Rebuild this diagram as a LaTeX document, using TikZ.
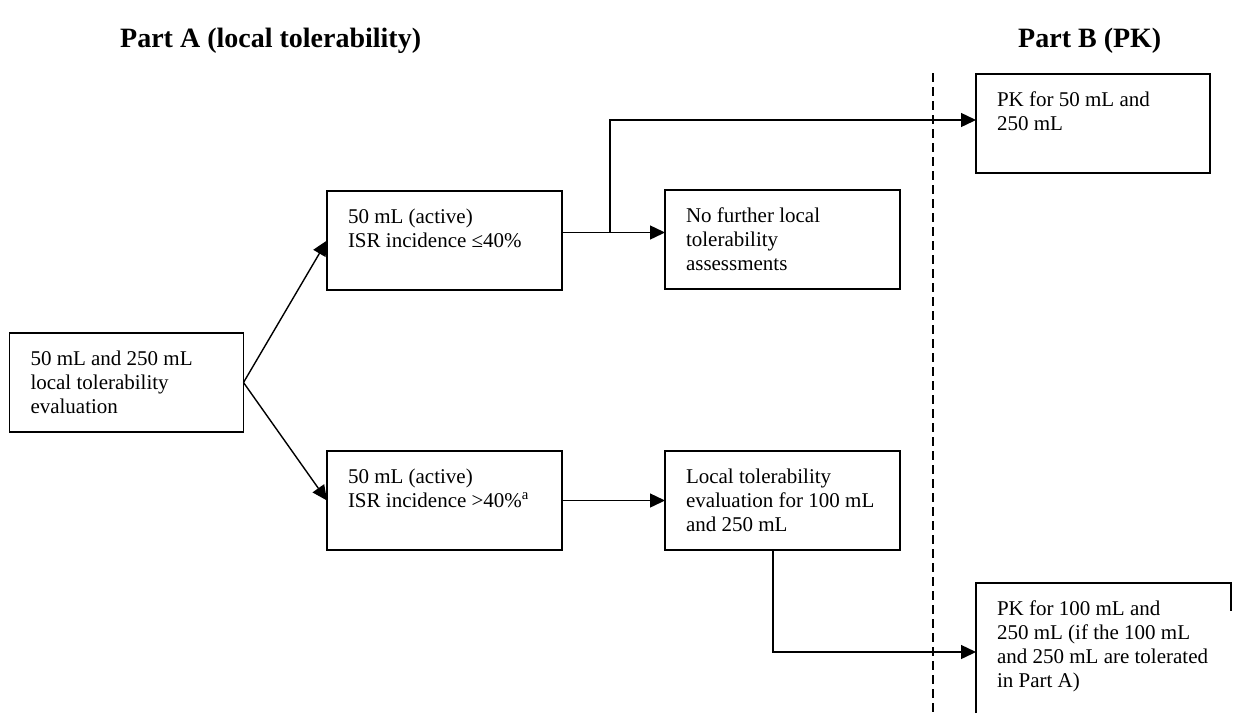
\documentclass[tikz,border=0pt]{standalone}
\usepackage{fontspec}
\setmainfont{Liberation Serif}
\usetikzlibrary{arrows.meta,calc}
\newcommand{\bxt}[3]{\parbox[c][#2][t]{#1}{\raggedright\rule{0pt}{32pt}#3}}
\tikzset{
  box/.style={draw, line width=1.5pt, inner xsep=21pt, inner ysep=0pt, outer sep=0pt,
    font=\fontsize{21}{24}\selectfont, anchor=north west},
  arr/.style={line width=1.4pt, -{Triangle[length=15pt,width=14pt]}},
  ln/.style={line width=1.5pt},
  dline/.style={line width=1.5pt, dash pattern=on 9pt off 5pt},
  title/.style={font=\bfseries\fontsize{28}{32}\selectfont, anchor=base west, inner sep=0pt},
}
\begin{document}
\begin{tikzpicture}[x=1pt,y=-1pt]
\useasboundingbox (0,0) rectangle (1233,713);
% titles
\node[title] (ta) at (120,47) {Part A (local tolerability)};
\node[title] (tb) at (1018,47) {Part B (PK)};
% divider
\coordinate (dtop) at (933,73);
\coordinate (dbot) at (933,713);
\draw[dline] (dtop) -- (dbot);
% boxes
\node[box] (a) at (9.5,333) {\bxt{192pt}{99pt}{50 mL and 250 mL\\local tolerability\\evaluation}};
\node[box] (b) at (327,191) {\bxt{193pt}{99pt}{50 mL (active)\\ISR incidence ≤40\%}};
\node[box] (c) at (327,451) {\bxt{193pt}{99pt}{50 mL (active)\\ISR incidence >40\%\textsuperscript{a}}};
\node[box] (d) at (665,190) {\bxt{193pt}{99pt}{No further local\\tolerability\\assessments}};
\node[box] (e) at (665,451) {\bxt{193pt}{99pt}{Local tolerability\\evaluation for 100 mL\\and 250 mL}};
\node[box] (f) at (976,74) {\bxt{192pt}{99pt}{PK for 50 mL and\\250 mL}};
\node[box, draw=none] (g) at (976,583) {\bxt{213pt}{138pt}{PK for 100 mL and\\250 mL (if the 100 mL\\and 250 mL are tolerated\\in Part A)}};
\draw[ln] (g.north west |- dbot) -- (g.north west) -- (g.north east) -- ++(0,28);
% connectors
\draw[arr] (a.east) -- (b.west);
\draw[arr] (a.east) -- (c.west);
\draw[arr] ([yshift=8pt]b.east) -- ([yshift=8pt]b.east -| d.west);
\coordinate (br) at ($([yshift=8pt]b.east)+(48,0)$);
\draw[arr] (br) |- ([yshift=3.5pt]f.west);
\draw[arr] (c.east) -- (e.west);
\draw[arr] ([xshift=-9.5pt]e.south) |- (g.west);
\end{tikzpicture}
\end{document}
